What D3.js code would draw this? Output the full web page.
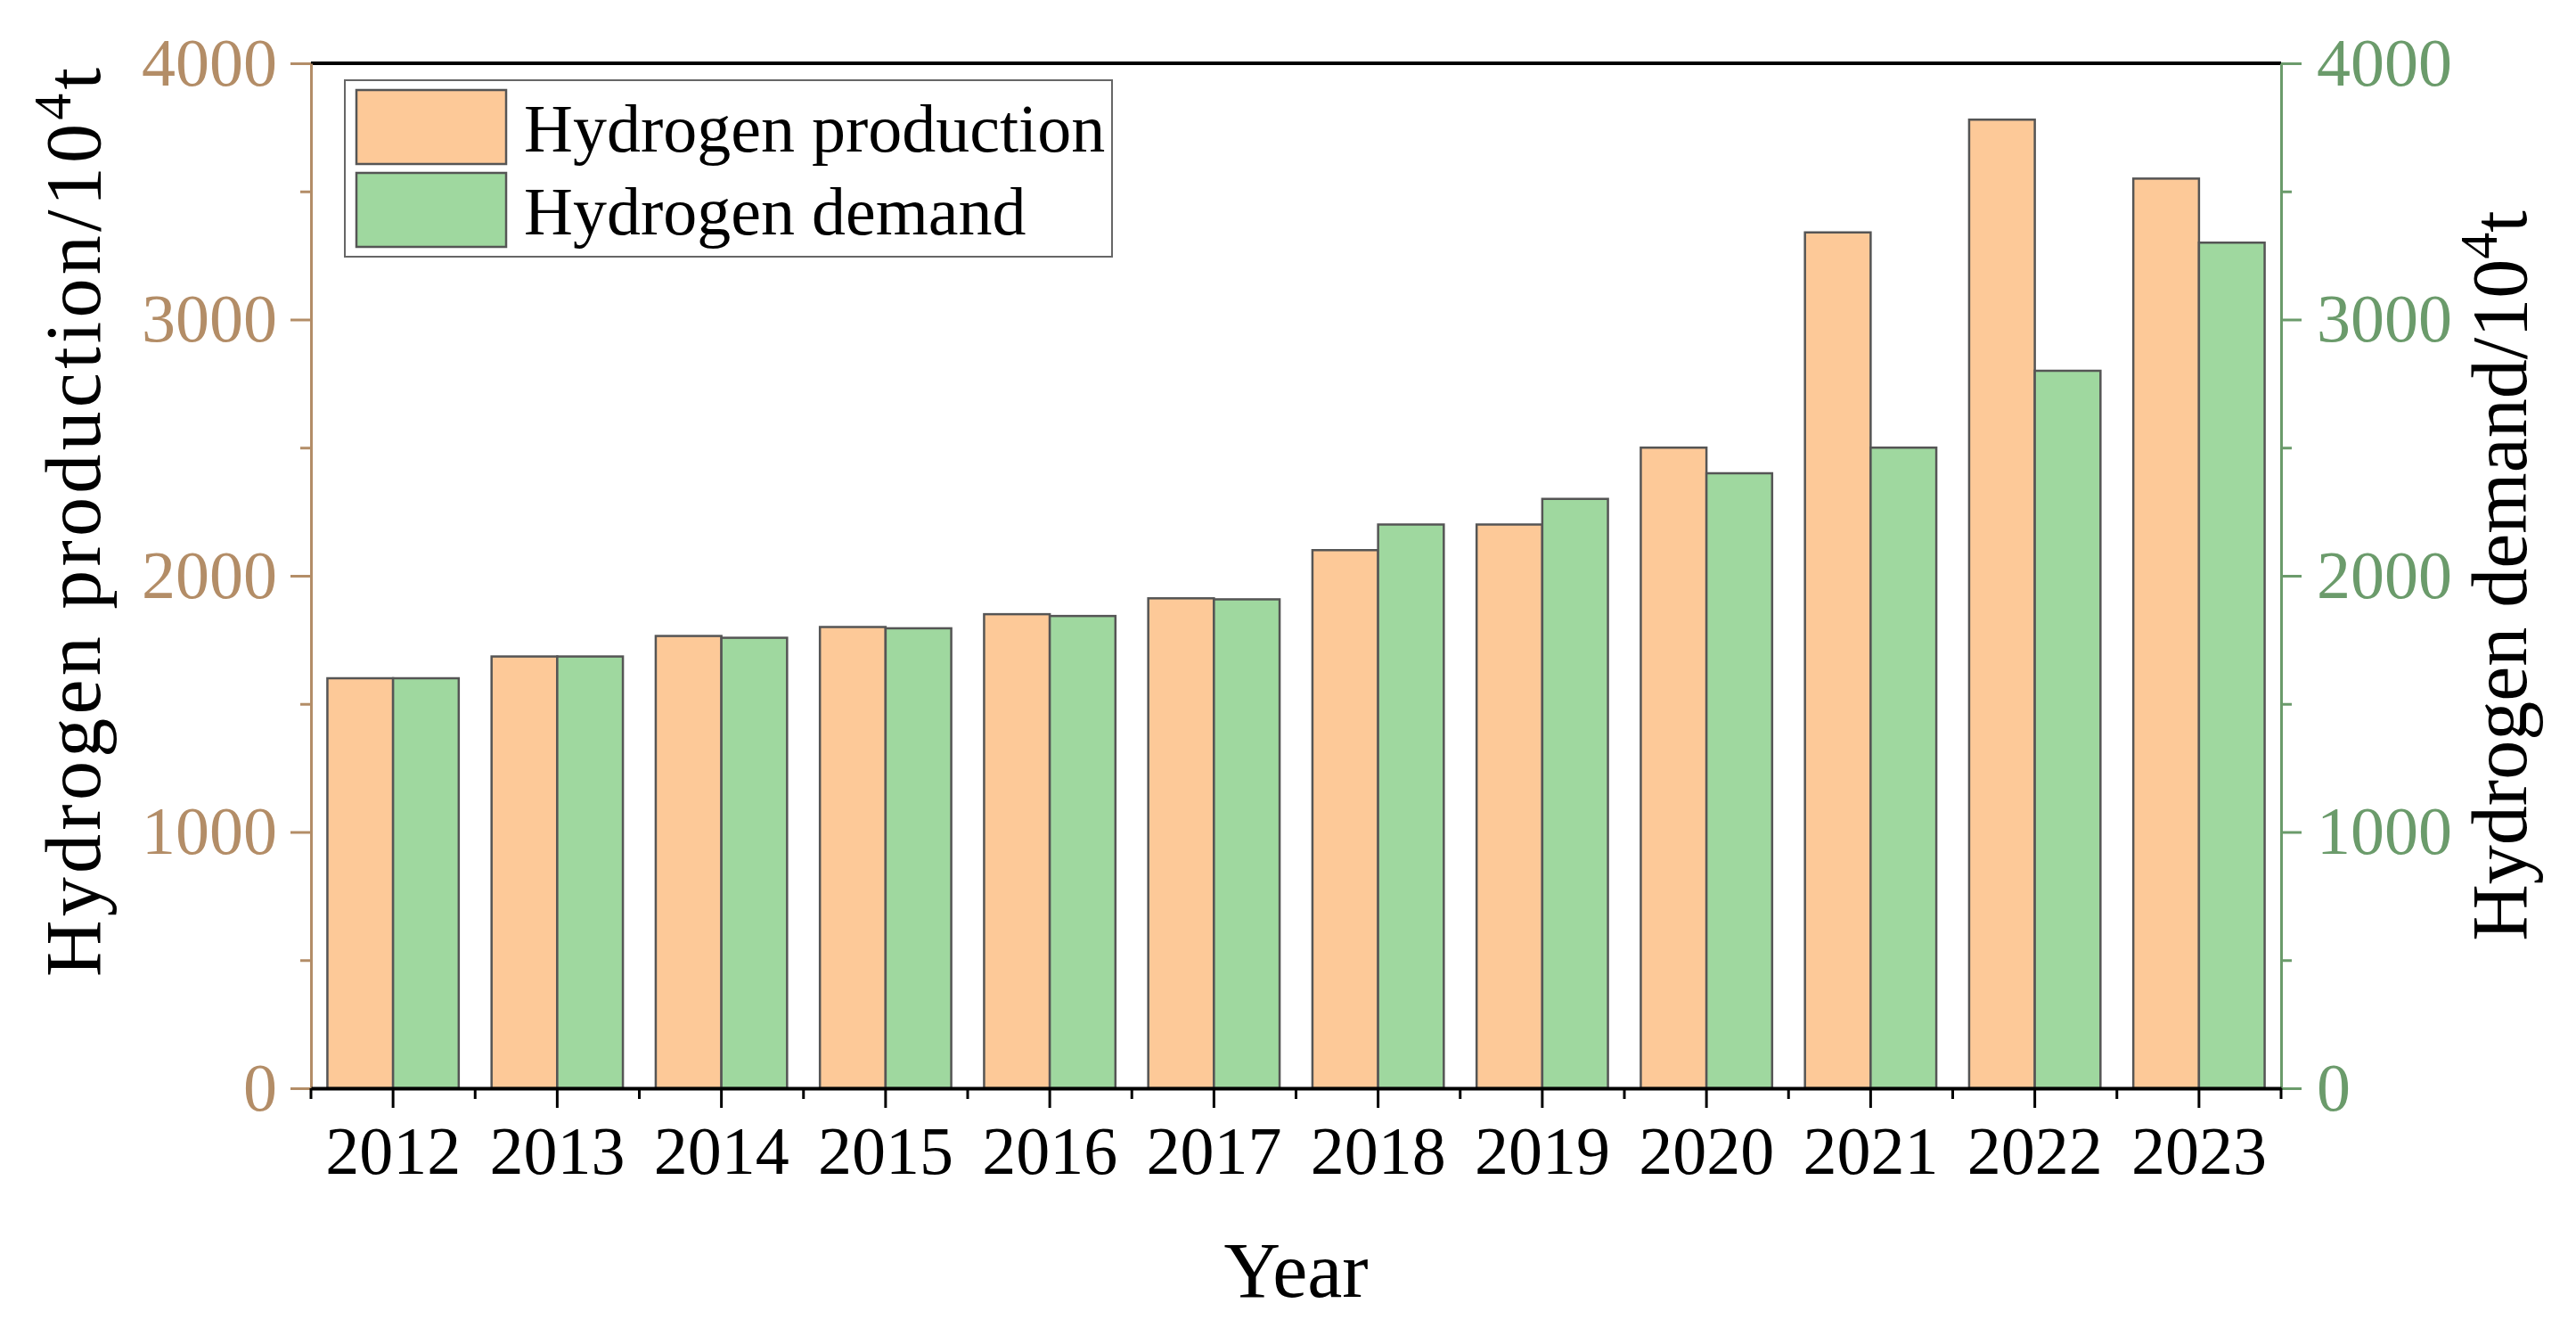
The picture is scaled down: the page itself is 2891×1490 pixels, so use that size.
<!DOCTYPE html>
<html>
<head>
<meta charset="utf-8">
<script src="https://cdn.jsdelivr.net/npm/d3@7"></script>
<style>
  body { margin: 0; background: #fff; }
  text { font-family: "Liberation Serif", "Times New Roman", serif; }
</style>
</head>
<body>
<script>
// data (unit: 10^4 t)
const years = ["2012", "2013", "2014", "2015", "2016", "2017", "2018", "2019", "2020", "2021", "2022", "2023"];
const production = [1600, 1685, 1765, 1800, 1850, 1912, 2100, 2200, 2500, 3340, 3780, 3550];
const demand = [1600, 1685, 1758, 1795, 1843, 1908, 2200, 2300, 2400, 2500, 2800, 3300];
const yTicks = [0, 1000, 2000, 3000, 4000];
const yMinor = [500, 1500, 2500, 3500];
const seriesNames = ["Hydrogen production", "Hydrogen demand"];

const w = 2891, h = 1490;
const plotLeft = 349, plotRight = 2560, plotTop = 71, plotBottom = 1221;
const tan = "#b38d67", green = "#6b9b6b";
const fills = ["#fdc998", "#9fd89f"];

const svg = d3.select("body").append("svg")
    .attr("width", w)
    .attr("height", h);

const x = d3.scaleBand()
    .domain(years)
    .range([plotLeft, plotRight])
    .paddingInner(0.2)
    .paddingOuter(0.1);
const xSub = d3.scaleBand()
    .domain([0, 1])
    .range([0, x.bandwidth()]);
const yL = d3.scaleLinear().domain([0, 4000]).range([plotBottom, plotTop]);
const yR = d3.scaleLinear().domain([0, 4000]).range([plotBottom, plotTop]);

// bars
const rows = years.map((y, i) => ({year: y, vals: [production[i], demand[i]]}));
const groups = svg.selectAll("g.year")
    .data(rows)
    .enter()
    .append("g")
    .attr("class", "year")
    .attr("transform", d => "translate(" + x(d.year) + ",0)");

groups.selectAll("rect")
    .data(d => d.vals.map((v, k) => ({k: k, v: v})))
    .enter()
    .append("rect")
    .attr("x", d => xSub(d.k))
    .attr("y", d => (d.k == 0 ? yL : yR)(d.v))
    .attr("width", xSub.bandwidth())
    .attr("height", d => plotBottom - (d.k == 0 ? yL : yR)(d.v))
    .attr("fill", d => fills[d.k])
    .attr("stroke", "#555")
    .attr("stroke-width", 2.5);

// top frame line
svg.append("line")
    .attr("x1", plotLeft).attr("x2", plotRight)
    .attr("y1", plotTop).attr("y2", plotTop)
    .attr("stroke", "#000").attr("stroke-width", 4);

// left axis
const gl = svg.append("g")
    .attr("transform", "translate(" + plotLeft + ",0)")
    .call(d3.axisLeft(yL).tickValues(yTicks).tickSize(23).tickSizeOuter(0).tickPadding(15).tickFormat(d3.format("d")));
gl.select(".domain").attr("stroke", tan).attr("stroke-width", 3);
gl.selectAll(".tick line").attr("stroke", tan).attr("stroke-width", 3);
gl.selectAll(".tick text").attr("fill", tan).style("font-size", "76px");

const glm = svg.append("g")
    .attr("transform", "translate(" + plotLeft + ",0)")
    .call(d3.axisLeft(yL).tickValues(yMinor).tickSize(12).tickFormat(""));
glm.select(".domain").remove();
glm.selectAll(".tick line").attr("stroke", tan).attr("stroke-width", 3);

// right axis
const gr = svg.append("g")
    .attr("transform", "translate(" + plotRight + ",0)")
    .call(d3.axisRight(yR).tickValues(yTicks).tickSize(23).tickSizeOuter(0).tickPadding(17).tickFormat(d3.format("d")));
gr.select(".domain").attr("stroke", green).attr("stroke-width", 3);
gr.selectAll(".tick line").attr("stroke", green).attr("stroke-width", 3);
gr.selectAll(".tick text").attr("fill", green).style("font-size", "76px");

const grm = svg.append("g")
    .attr("transform", "translate(" + plotRight + ",0)")
    .call(d3.axisRight(yR).tickValues(yMinor).tickSize(12).tickFormat(""));
grm.select(".domain").remove();
grm.selectAll(".tick line").attr("stroke", green).attr("stroke-width", 3);

// bottom axis
const gx = svg.append("g")
    .attr("transform", "translate(0," + plotBottom + ")")
    .call(d3.axisBottom(x).tickSize(22).tickSizeOuter(0).tickPadding(20));
gx.select(".domain").attr("stroke", "#000").attr("stroke-width", 4);
gx.selectAll(".tick line").attr("stroke", "#000").attr("stroke-width", 3);
gx.selectAll(".tick text").attr("fill", "#000").style("font-size", "76px");

// minor ticks on the band edges
const gap = (x.step() - x.bandwidth()) / 2;
const edges = years.map(d => x(d) - gap).concat([x(years[years.length - 1]) + x.bandwidth() + gap]);
svg.append("g").selectAll("line")
    .data(edges)
    .enter()
    .append("line")
    .attr("x1", d => d).attr("x2", d => d)
    .attr("y1", plotBottom).attr("y2", plotBottom + 12)
    .attr("stroke", "#000").attr("stroke-width", 3);

// axis titles
const midY = (plotTop + plotBottom) / 2;
const tl = svg.append("text")
    .attr("transform", "translate(112,1096) rotate(-90)")
    .attr("text-anchor", "start")
    .attr("textLength", 1020)
    .attr("lengthAdjust", "spacing")
    .style("font-size", "88px");
tl.append("tspan").text("Hydrogen production/10");
tl.append("tspan").attr("baseline-shift", "super").style("font-size", "60px").text("4");
tl.append("tspan").text("t");

const tr = svg.append("text")
    .attr("transform", "translate(2835," + midY + ") rotate(-90)")
    .attr("text-anchor", "middle")
    .style("font-size", "88px");
tr.append("tspan").text("Hydrogen demand/10");
tr.append("tspan").attr("baseline-shift", "super").style("font-size", "60px").text("4");
tr.append("tspan").text("t");

svg.append("text")
    .attr("x", (plotLeft + plotRight) / 2)
    .attr("y", 1455)
    .attr("text-anchor", "middle")
    .style("font-size", "88px")
    .text("Year");

// legend
const lg = svg.append("g");
lg.append("rect")
    .attr("x", 387).attr("y", 90)
    .attr("width", 861).attr("height", 198)
    .attr("fill", "#fff")
    .attr("stroke", "#666")
    .attr("stroke-width", 2);
seriesNames.forEach((name, i) => {
    lg.append("rect")
        .attr("x", 400).attr("y", 101 + i * 93)
        .attr("width", 168).attr("height", 83)
        .attr("fill", fills[i])
        .attr("stroke", "#555")
        .attr("stroke-width", 2.5);
    lg.append("text")
        .attr("x", 588).attr("y", 170 + i * 93)
        .style("font-size", "76px")
        .text(name);
});
</script>
</body>
</html>
